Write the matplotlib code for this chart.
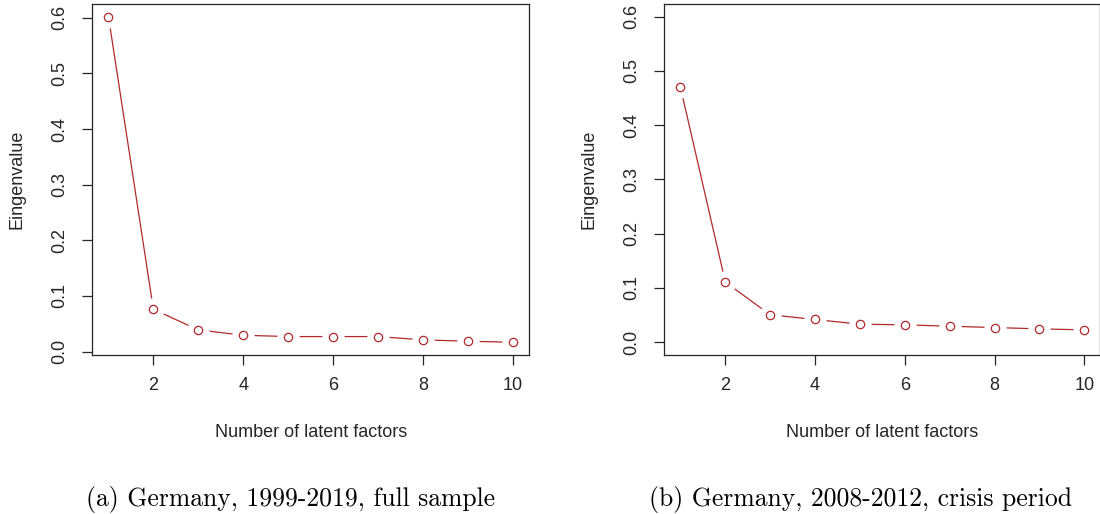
import matplotlib
matplotlib.use("Agg")
import matplotlib.pyplot as plt
import numpy as np

# eigenvalues
factors = list(range(1, 11))
eig_full = [0.602, 0.076, 0.039, 0.0294, 0.027, 0.027, 0.027, 0.0211, 0.0186, 0.0168]
eig_crisis = [0.470, 0.111, 0.0506, 0.042, 0.0333, 0.0321, 0.0296, 0.0271, 0.0247, 0.0228]

yticks = [0.0, 0.1, 0.2, 0.3, 0.4, 0.5, 0.6]
xticks = [2, 4, 6, 8, 10]
captions = ["(a) Germany, 1999-2019, full sample",
            "(b) Germany, 2008-2012, crisis period"]

red = "#b22a2a"
txt = "#262626"
plt.rcParams["font.family"] = ["Liberation Sans", "DejaVu Sans"]

fig = plt.figure(figsize=(11, 5.14), dpi=100)
ax1 = fig.add_axes([0.0839, 0.3088, 0.3970, 0.6840])
ax2 = fig.add_axes([0.6039, 0.3088, 0.3965, 0.6840])


def scree(ax, vals, ylim=None):
    ax.plot(factors, vals, color=red, lw=0.9, zorder=2)
    # white discs give the gaps of R's type="b"
    ax.plot(factors, vals, 'o', ms=16, mfc='white', mec='none', zorder=3)
    ax.plot(factors, vals, 'o', ms=6, mfc='white', mec=red, mew=0.9, zorder=4)
    ax.set_xlim(0.64, 10.36)
    if ylim is None:
        lo, hi = min(vals), max(vals)
        pad = (hi - lo) * 0.04
        ax.set_ylim(lo - pad, hi + pad)
    else:
        pad = (ylim[1] - ylim[0]) * 0.04
        ax.set_ylim(ylim[0] - pad, ylim[1] + pad)
    ax.set_xticks(xticks)
    ax.set_yticks(yticks)
    ax.set_yticklabels([f"{v:.1f}" for v in yticks])
    ax.tick_params(direction='out', length=7.5, width=0.9, color=txt,
                   labelsize=13, labelcolor=txt)
    ax.tick_params(axis='x', pad=8)
    ax.tick_params(axis='y', pad=10, labelrotation=90)
    for lbl in ax.get_yticklabels():
        lbl.set_va('center')
    for s in ax.spines.values():
        s.set_linewidth(0.9)
        s.set_color(txt)
    ax.set_xlabel("Number of latent factors", fontsize=13, color=txt)
    ax.set_ylabel("Eingenvalue", fontsize=13, color=txt)
    ax.xaxis.set_label_coords(0.5, -0.196)
    ax.yaxis.set_label_coords(-0.154, 0.5)


scree(ax1, eig_full)
scree(ax2, eig_crisis, ylim=(0, 0.6))

fig.text(0.2643, 0.0156, captions[0], fontsize=18.5, family='cmr10',
         ha='center', va='baseline')
fig.text(0.782, 0.0156, captions[1], fontsize=18.5, family='cmr10',
         ha='center', va='baseline')

fig.savefig("out.png", dpi=100)
